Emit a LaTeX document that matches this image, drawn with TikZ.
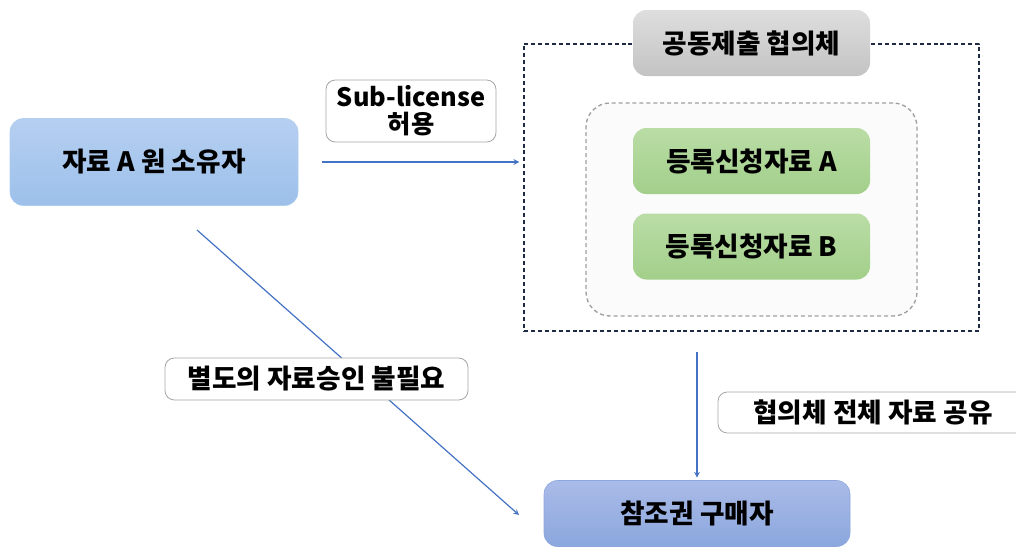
\documentclass[tikz,border=0pt]{standalone}
\usepackage{fontspec}
\setmainfont{Noto Sans CJK KR}
\definecolor{arrblue}{HTML}{4472C4}
\definecolor{navy}{HTML}{1F2A44}
\definecolor{owntop}{HTML}{B6CFF1}
\definecolor{ownbot}{HTML}{9CC0EA}
\definecolor{buytop}{HTML}{AABBE8}
\definecolor{buybot}{HTML}{8BA7DD}
\definecolor{grntop}{HTML}{BADDA6}
\definecolor{grnbot}{HTML}{A2CF8A}
\definecolor{grytop}{HTML}{DEDEDE}
\definecolor{grybot}{HTML}{C3C3C3}
\begin{document}
\begin{tikzpicture}[x=0.75pt,y=-0.75pt,>=stealth, font=\fontsize{20}{23}\selectfont\bfseries, line join=round]
	\tikzset{
		box/.style={rounded corners=10pt, minimum width=177.75pt, minimum height=49.5pt},
		note/.style={draw=gray!70, fill=white, rounded corners=7pt, line width=0.6pt},
		link/.style={->, draw=arrblue, line width=0.9pt}
	}
	\useasboundingbox (0,0) rectangle (1016,547);
	\clip (0,0) rectangle (1016,547);
	% 협의체
	\node[draw=navy, dash pattern=on 3pt off 2.2pt, line width=1.1pt, minimum width=341.25pt, minimum height=215.25pt] (grp) at (751.5,187.5) {};
	\node[draw=gray!75, dash pattern=on 3pt off 2.2pt, line width=1pt, fill=gray!3, rounded corners=18pt, minimum width=248.25pt, minimum height=159.75pt] (reg) at (751.5,209.5) {};
	\node[box, top color=grytop, bottom color=grybot] (title) at (751.5,43) {공동제출 협의체};
	\node[box, top color=grntop, bottom color=grnbot] (regA) at (751.5,161) {등록신청자료 A};
	\node[box, top color=grntop, bottom color=grnbot] (regB) at (751.5,246.5) {등록신청자료 B};
	% 소유자, 구매자
	\node[box, minimum width=216pt, minimum height=65.25pt, top color=owntop, bottom color=ownbot, draw=ownbot!80] (owner) at (154,162) {자료 A 원 소유자};
	\node[box, minimum width=229.5pt, top color=buytop, bottom color=buybot, draw=buybot] (buyer) at (697,513.5) {참조권 구매자};
	% 화살표
	\coordinate (d1) at (197,230);
	\coordinate (d2) at (519,515);
	\draw[link, shorten <=18pt, shorten >=3pt] (owner.east) -- (owner.east -| grp.west);
	\draw[link, shorten <=15pt, shorten >=2pt] (grp.south -| buyer) -- (buyer.north);
	\draw[link] (d1) -- (d2);
	% 설명
	\node[note, minimum width=127.5pt, minimum height=46.5pt, align=center, font=\fontsize{19}{20}\selectfont\bfseries] (lic) at (411,111) {Sub-license\\허용};
	\node[note, minimum width=227.25pt, minimum height=31.5pt] (sep) at (316.5,379) {별도의 자료승인 불필요};
	\node[note, minimum width=232.5pt, minimum height=30.75pt] (share) at (873,412.5) {협의체 전체 자료 공유};
\end{tikzpicture}
\end{document}
